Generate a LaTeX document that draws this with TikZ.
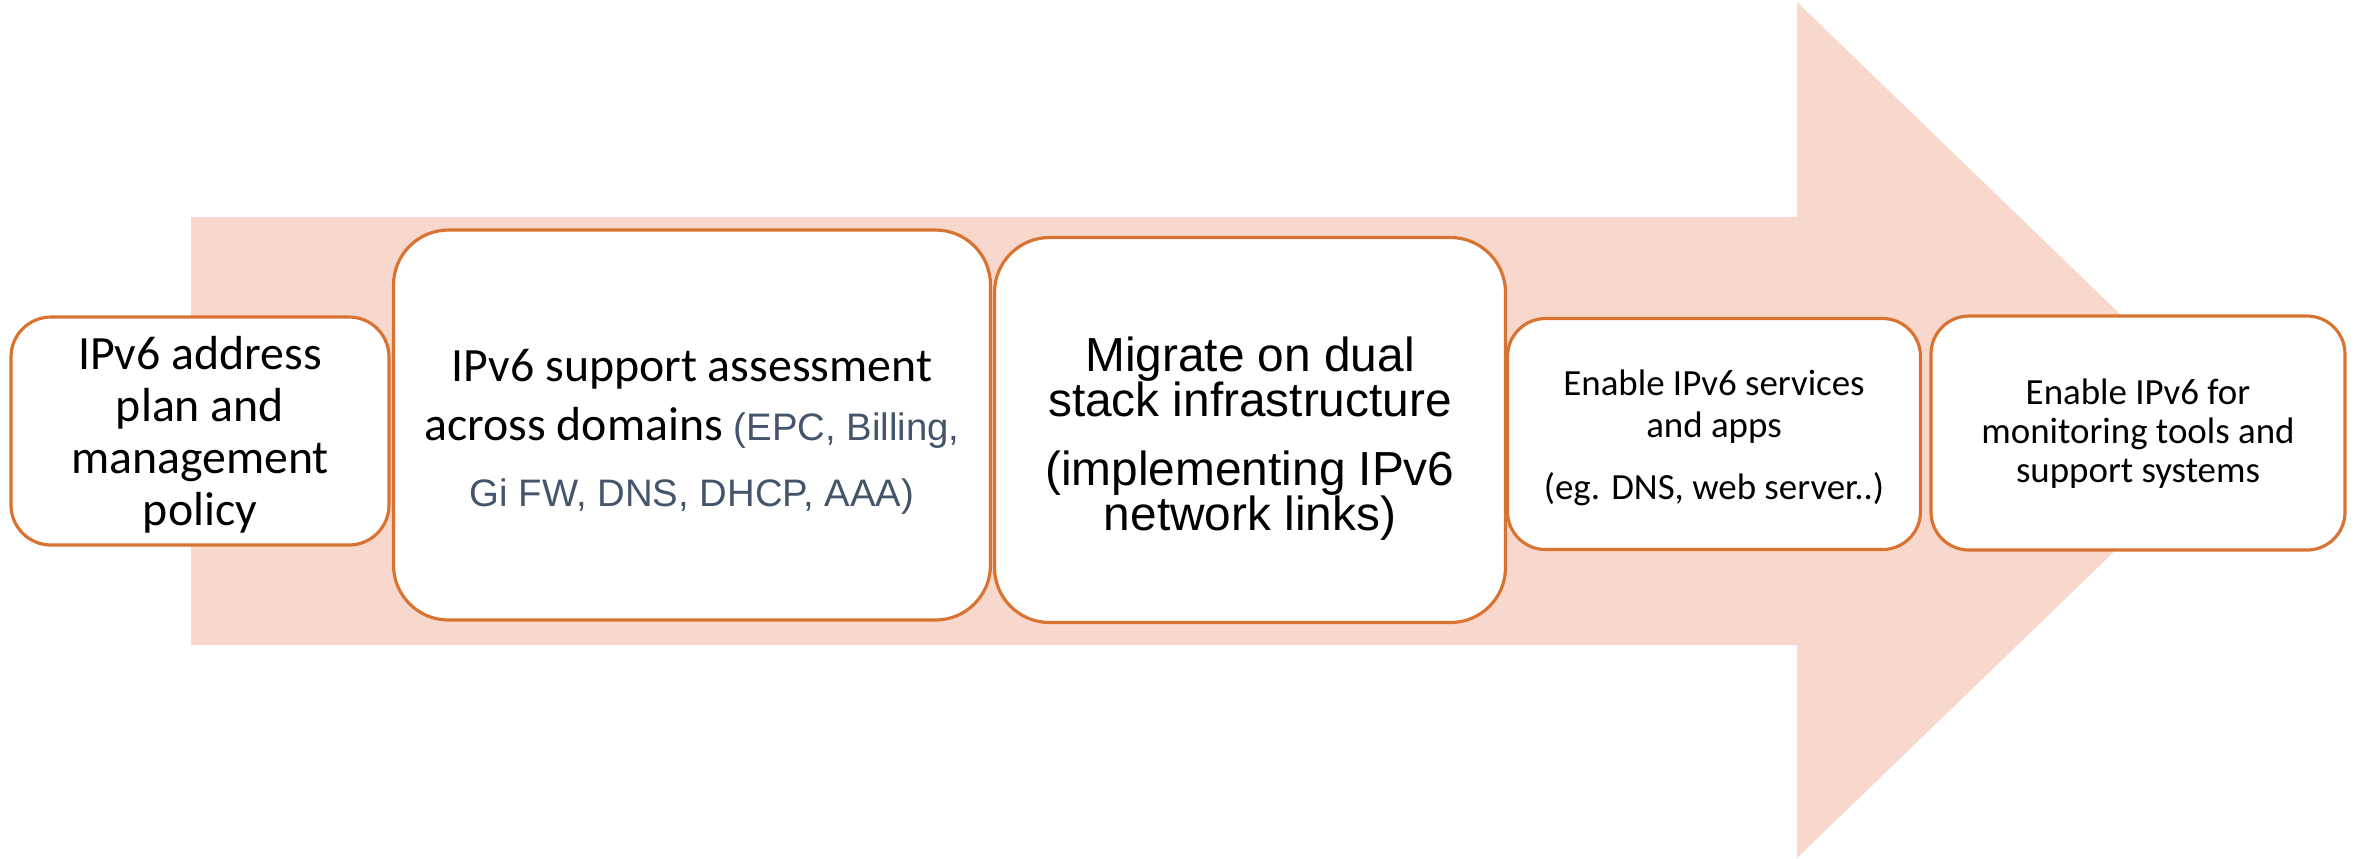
\documentclass[tikz,border=0pt]{standalone}
\usepackage{fontspec}
\setmainfont{Carlito}
\newfontfamily\arialfont{Liberation Sans}
\usepackage{xcolor}
\usetikzlibrary{positioning}
\definecolor{arrowpink}{HTML}{F8D7CC}
\definecolor{boxorange}{HTML}{D97331}
\definecolor{notegray}{HTML}{44546A}

\begin{document}
\begin{tikzpicture}[x=0.1mm, y=-0.1mm,
  stepbox/.style={draw=boxorange, line width=0.9pt, fill=white, inner sep=0pt},
  steptext/.style={align=center, inner sep=0pt}]
  \useasboundingbox (0,0) rectangle (2358,858);
  % --- big arrow in the background ---
  \fill[arrowpink] (191,217) -- (1797,217) -- (1797,2) -- (2240,430)
       -- (1797,858) -- (1797,645) -- (191,645) -- cycle;
  % --- steps, left to right ---
  \node[stepbox, rounded corners=4mm, minimum width=37.8mm, minimum height=22.8mm] (plan) at (200,431) {};
  \node[stepbox, rounded corners=5.5mm, minimum width=59.7mm, minimum height=39mm] (assess) at (692,425) {};
  \node[stepbox, rounded corners=5.5mm, minimum width=51.1mm, minimum height=38.5mm] (dual) at (1250,430) {};
  \node[stepbox, rounded corners=3.8mm, minimum width=41.3mm, minimum height=23.1mm] (apps) at (1714,434) {};
  \node[stepbox, rounded corners=3.8mm, minimum width=41.4mm, minimum height=23.4mm] (monitor) at (2138,433) {};
  % --- texts ---
  \node[steptext, font=\fontsize{13.6}{14.8}\selectfont] (plantext) at ([yshift=-0.4mm]plan.center)
       {IPv6 address\\plan and\\management\\policy};
  \node[steptext, font=\fontsize{13.6}{16.8}\selectfont] (assesstext) at ([yshift=-0.7mm]assess.center)
       {IPv6 support assessment\\across domains {\arialfont\fontsize{10.9}{16.8}\selectfont\color{notegray}(EPC, Billing,}\\[2pt]
        {\arialfont\fontsize{10.9}{16.8}\selectfont\color{notegray}Gi FW, DNS, DHCP, AAA)}};
  \node[steptext, font=\arialfont\fontsize{13.6}{12.8}\selectfont] (dualtext) at ([yshift=-0.9mm]dual.center)
       {Migrate on dual\\stack infrastructure\\[6.8pt](implementing IPv6\\network links)};
  \node[steptext, font=\fontsize{10.5}{11.9}\selectfont] (appstext) at ([yshift=-0.4mm]apps.center)
       {Enable IPv6 services\\and apps\\[5.7pt](eg. DNS, web server..)};
  \node[steptext, font=\fontsize{10.5}{11.1}\selectfont] (monitortext) at ([yshift=-0.1mm]monitor.center)
       {Enable IPv6 for\\monitoring tools and\\support systems};
\end{tikzpicture}
\end{document}
